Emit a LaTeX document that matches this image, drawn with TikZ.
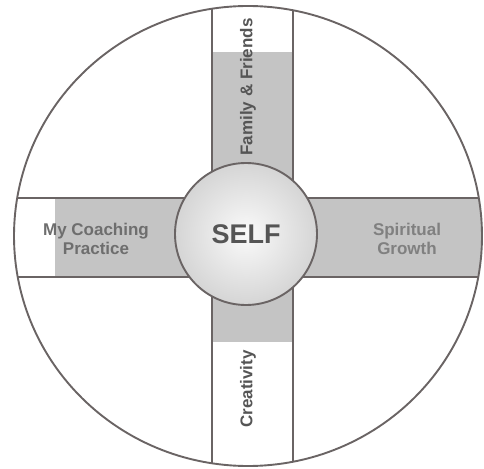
\documentclass[tikz,border=0pt]{standalone}
\usepackage{fontspec}
\setmainfont{Liberation Sans}
\begin{document}
\begin{tikzpicture}[x=1pt,y=-1pt]
\definecolor{band}{HTML}{C4C4C4}
\definecolor{edge}{HTML}{6A6464}
\definecolor{ink}{HTML}{555555}
\tikzset{
  edgeline/.style={draw=edge,line width=1.9pt},
  lbl/.style={font=\bfseries\fontsize{17}{18.5}\selectfont, text=ink, align=center, inner sep=0pt}
}
\useasboundingbox (0,0) rectangle (484,468);
\begin{scope}
  \clip (248,236) ellipse [x radius=234pt, y radius=230pt];
  \fill[band] (212,52) rectangle (293,237);
  \fill[band] (212,237) rectangle (293,342);
  \fill[band] (55,198) rectangle (484,277);
  \draw[edgeline] (212,0) -- (212,468);
  \draw[edgeline] (293,0) -- (293,468);
  \draw[edgeline] (0,198) -- (484,198);
  \draw[edgeline] (0,277) -- (484,277);
\end{scope}
\draw[edgeline] (248,236) ellipse [x radius=234pt, y radius=230pt];
\node[circle, minimum size=142pt, inner sep=0pt, edgeline, inner color=gray!4, outer color=gray!33,
      font=\bfseries\fontsize{27}{30}\selectfont, text=ink] (self) at (246,234) {SELF};
\node[lbl, rotate=90] (family) at (248,87) {Family \& Friends};
\node[lbl, rotate=90] (creativity) at (248,389) {Creativity};
\node[lbl, text=ink!85] (coaching) at (96,239) {My Coaching\\Practice};
\node[lbl, text=ink!75] (spiritual) at (407,239) {Spiritual\\Growth};
\end{tikzpicture}
\end{document}
